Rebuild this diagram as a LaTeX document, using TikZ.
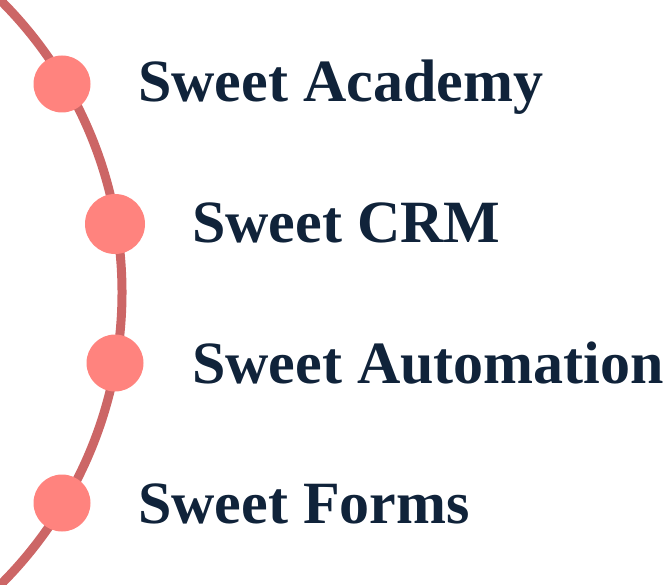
\documentclass[tikz,border=0pt]{standalone}
\usepackage{fontspec}
\setmainfont{Liberation Serif}
\usetikzlibrary{positioning}
\definecolor{arcred}{HTML}{CC6666}
\definecolor{dotpink}{HTML}{FF837E}
\definecolor{inkblue}{HTML}{10233A}
\tikzset{
	dot/.style={circle, fill=dotpink, inner sep=0pt, minimum size=57pt},
	product/.style={anchor=base west, inner sep=0pt, text=inkblue, font=\fontsize{60}{60}\selectfont\bfseries}
}

\begin{document}
\begin{tikzpicture}[x=1pt, y=-1pt]
			%%%%% START %%%%%
			\useasboundingbox (0, 0) rectangle (671, 585);
			\clip (0, 0) rectangle (671, 585);
			
			\draw[line width=9pt, color=arcred] (-290, 292.5) ++(-48:412) arc (-48:48:412);
			
			\node[dot] (academy) at (62, 84) {};
			\node[dot, minimum size=60pt] (crm) at (115, 224) {};
			\node[dot] (automation) at (115, 363) {};
			\node[dot] (forms) at (62, 503) {};
			
			\node[product] (academytext) at (138, 102) {Sweet Academy};
			\node[product] (crmtext) at (192, 243) {Sweet CRM};
			\node[product] (automationtext) at (192, 383) {Sweet Automation};
			\node[product] (formstext) at (138, 523) {Sweet Forms};
			
			%%%%% END %%%%%
\end{tikzpicture}
\end{document}
